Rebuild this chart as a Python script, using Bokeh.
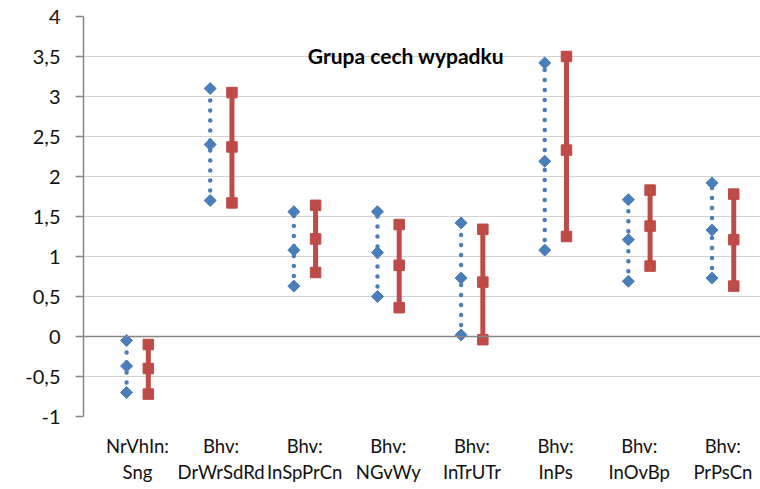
import numpy as np
from bokeh.plotting import figure
from bokeh.models import FixedTicker, Label, Span, ColumnDataSource
from bokeh.embed import file_html
from bokeh.resources import INLINE

categories = ["NrVhIn:\nSng", "Bhv:\nDrWrSdRd", "Bhv:\nInSpPrCn", "Bhv:\nNGvWy",
              "Bhv:\nInTrUTr", "Bhv:\nInPs", "Bhv:\nInOvBp", "Bhv:\nPrPsCn"]
blue_hi = [-0.05, 3.10, 1.56, 1.56, 1.42, 3.42, 1.71, 1.92]
blue_mid = [-0.37, 2.40, 1.08, 1.05, 0.73, 2.19, 1.21, 1.33]
blue_lo = [-0.70, 1.70, 0.63, 0.50, 0.02, 1.08, 0.69, 0.73]
red_hi = [-0.10, 3.05, 1.64, 1.40, 1.34, 3.50, 1.83, 1.78]
red_mid = [-0.40, 2.37, 1.22, 0.89, 0.68, 2.33, 1.38, 1.21]
red_lo = [-0.72, 1.67, 0.80, 0.36, -0.04, 1.25, 0.88, 0.63]
y_ticks = [-1, -0.5, 0, 0.5, 1, 1.5, 2, 2.5, 3, 3.5, 4]
title_text = "Grupa cech wypadku"

BLUE = "#4a7ebb"
RED = "#be4b48"
FONT = "Lato"

x = np.arange(1, len(categories) + 1)
off = 0.13
xb = x - off
xr = x + off

p = figure(width=760, height=489, output_backend="svg", toolbar_location=None,
           x_range=(0.355, 8.45), y_range=(-1, 4),
           min_border_left=83, min_border_right=0, min_border_top=16, min_border_bottom=73)
p.outline_line_color = None
p.background_fill_color = "white"
p.border_fill_color = "white"

# grid
p.xgrid.grid_line_color = None
p.ygrid.ticker = FixedTicker(ticks=y_ticks)
p.ygrid.grid_line_color = "#a6a6a6"
p.ygrid.grid_line_dash = "1 1"
p.ygrid.grid_line_width = 1

# y axis
p.yaxis.ticker = FixedTicker(ticks=y_ticks)
p.yaxis.major_label_overrides = {t: (str(t).replace(".", ",") if t != int(t) else str(int(t))) for t in y_ticks}
p.yaxis.axis_line_color = "#868686"
p.yaxis.axis_line_width = 1.5
p.yaxis.major_tick_line_color = "#868686"
p.yaxis.major_tick_line_width = 1.5
p.yaxis.major_tick_out = 8
p.yaxis.major_tick_in = 0
p.yaxis.minor_tick_line_color = None
p.yaxis.major_label_standoff = 15
p.yaxis.major_label_text_font = FONT
p.yaxis.major_label_text_font_size = "20px"
p.yaxis.major_label_text_color = "#111111"

# x axis
p.xaxis.ticker = FixedTicker(ticks=list(x))
p.xaxis.major_label_overrides = {int(i): c for i, c in zip(x, categories)}
p.xaxis.axis_line_color = None
p.xaxis.major_tick_line_color = None
p.xaxis.minor_tick_line_color = None
p.xaxis.major_tick_out = 0
p.xaxis.major_tick_in = 0
p.xaxis.major_label_standoff = 18
p.xaxis.major_label_text_font = FONT
p.xaxis.major_label_text_font_size = "18.5px"
p.xaxis.major_label_text_color = "#111111"

# zero line
p.add_layout(Span(location=0, dimension="width", line_color="#868686", line_width=1.5))

bsrc = ColumnDataSource(dict(x=xb, hi=blue_hi, mid=blue_mid, lo=blue_lo))
rsrc = ColumnDataSource(dict(x=xr, hi=red_hi, mid=red_mid, lo=red_lo))

# blue dotted connectors
p.segment(x0="x", y0="lo", x1="x", y1="hi", source=bsrc, line_color=BLUE,
          line_width=4.5, line_dash="0 10", line_cap="round")
# red solid connectors
p.segment(x0="x", y0="lo", x1="x", y1="hi", source=rsrc, line_color=RED,
          line_width=5)

for col in ["hi", "mid", "lo"]:
    p.scatter(x="x", y=col, source=bsrc, marker="square", angle=np.pi / 4, size=8.5,
              fill_color=BLUE, line_color=BLUE)
    p.scatter(x="x", y=col, source=rsrc, marker="square", size=10.5,
              fill_color=RED, line_color=RED)

p.add_layout(Label(x=4.21, y=3.51, text=title_text, text_align="center",
                   text_baseline="middle", text_font=FONT, text_font_style="bold",
                   text_font_size="21px", text_color="black"))

open("out.html", "w").write(file_html(p, INLINE))
